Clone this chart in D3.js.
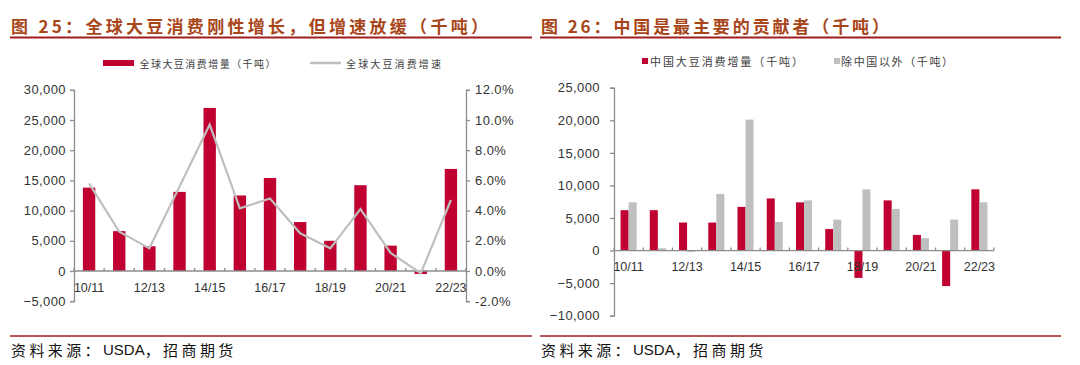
<!DOCTYPE html>
<html><head><meta charset="utf-8">
<script src="https://cdn.jsdelivr.net/npm/d3@7"></script>
<style>
html,body{margin:0;padding:0;background:#fff;}
svg{display:block;}
</style></head>
<body>
<svg id="c" width="1080" height="365"></svg>
<script>
// ---------- data ----------
const categories = ["10/11","11/12","12/13","13/14","14/15","15/16","16/17","17/18","18/19","19/20","20/21","21/22","22/23"];
const tickLabels = ["10/11","12/13","14/15","16/17","18/19","20/21","22/23"];
// left chart
const globalIncrease = [13800, 6600, 4100, 13100, 27000, 12500, 15400, 8100, 5000, 14200, 4200, -500, 16900];
const globalGrowth = [5.8, 2.6, 1.5, 5.6, 9.7, 4.15, 4.8, 2.5, 1.5, 4.1, 1.2, -0.15, 4.7];
const leftTicks = [-5000, 0, 5000, 10000, 15000, 20000, 25000, 30000];
const rightTicks = [-2, 0, 2, 4, 6, 8, 10, 12];
// right chart
const chinaIncrease = [6200, 6200, 4300, 4300, 6700, 8000, 7400, 3300, -4200, 7700, 2400, -5450, 9400];
const otherIncrease = [7400, 350, -200, 8700, 20100, 4400, 7700, 4750, 9400, 6400, 1900, 4750, 7400];
const rTicks = [-10000, -5000, 0, 5000, 10000, 15000, 20000, 25000];

const RED = "#C00030", GRAY = "#BFBFBF", AXIS = "#8C8C8C", TXT = "#333333";
const TITLE_C = "#A8461A", RULE_C = "#A01E1E";
const LATIN = "'Liberation Sans', Arial, sans-serif";
const CJK = "'Noto Sans CJK SC', 'Noto Sans', sans-serif";

const svg = d3.select("#c");

// ---------- headers / footers ----------
function header(x, lineX0, lineX1, title, tl) {
  svg.append("text").attr("x", x).attr("y", 25).attr("dominant-baseline", "central")
    .attr("font-family", CJK).attr("font-weight", "bold").attr("font-size", 17)
    .attr("fill", TITLE_C).attr("textLength", tl).attr("lengthAdjust", "spacing").text(title);
  svg.append("line").attr("x1", lineX0).attr("x2", lineX1).attr("y1", 37.5).attr("y2", 37.5)
    .attr("stroke", RULE_C).attr("stroke-width", 2);
  svg.append("line").attr("x1", lineX0).attr("x2", lineX1).attr("y1", 336).attr("y2", 336)
    .attr("stroke", RULE_C).attr("stroke-width", 1.5);
  const s = svg.append("text").attr("x", x).attr("y", 349).attr("dominant-baseline", "central")
    .attr("font-size", 15).attr("fill", "#111");
  s.append("tspan").attr("font-family", CJK).attr("letter-spacing", 3.4).text("资料来源：");
  s.append("tspan").attr("font-family", LATIN).text("USDA");
  s.append("tspan").attr("font-family", CJK).attr("letter-spacing", 3.4).text("，招商期货");
}
header(11, 10, 532, "图 25：全球大豆消费刚性增长，但增速放缓（千吨）", 477);
header(541, 540, 1061, "图 26：中国是最主要的贡献者（千吨）", 348);

// ---------- helpers ----------
function styleAxis(g) {
  g.selectAll("path.domain").attr("stroke", AXIS).attr("stroke-width", 1.3);
  g.selectAll(".tick line").attr("stroke", AXIS).attr("stroke-width", 1.3);
  g.selectAll(".tick text").attr("fill", TXT).attr("font-family", LATIN).attr("font-size", 13)
    .attr("letter-spacing", 0.4);
}
function xAxis(x, yZero, labelY) {
  const g = svg.append("g");
  g.append("line").attr("x1", x.range()[0]).attr("x2", x.range()[1]).attr("y1", yZero).attr("y2", yZero)
    .attr("stroke", AXIS).attr("stroke-width", 1.3);
  const bounds = categories.map(c => x(c)).concat([x.range()[1]]);
  g.selectAll("line.b").data(bounds).join("line").attr("class", "b")
    .attr("x1", d => d).attr("x2", d => d).attr("y1", yZero).attr("y2", yZero - 3)
    .attr("stroke", AXIS).attr("stroke-width", 1.3);
  g.selectAll("text").data(tickLabels).join("text")
    .attr("x", d => x(d) + x.bandwidth() / 2).attr("y", labelY).attr("dominant-baseline", "central")
    .attr("text-anchor", "middle").attr("font-family", LATIN).attr("font-size", 12.5).attr("fill", TXT)
    .text(d => d);
}

// ---------- left chart ----------
{
  const x = d3.scaleBand().domain(categories).range([74, 466]).paddingInner(0.59).paddingOuter(0.295);
  const xb = d3.scaleBand().domain(categories).range([74, 466]);
  const y = d3.scaleLinear().domain([-5000, 30000]).range([301.2, 89.8]);
  const y2 = d3.scaleLinear().domain([-2, 12]).range([301.2, 89.8]);

  svg.append("g").selectAll("rect").data(globalIncrease).join("rect")
    .attr("x", (d, i) => x(categories[i])).attr("width", x.bandwidth())
    .attr("y", d => Math.min(y(d), y(0))).attr("height", d => Math.abs(y(d) - y(0)))
    .attr("fill", RED);

  const gl = svg.append("g").attr("transform", "translate(74,0)")
    .call(d3.axisLeft(y).tickValues(leftTicks).tickFormat(d3.format(",")).tickSize(4).tickPadding(4));
  styleAxis(gl);
  const gr = svg.append("g").attr("transform", "translate(466,0)")
    .call(d3.axisRight(y2).tickValues(rightTicks).tickFormat(d => d.toFixed(1) + "%").tickSize(4).tickPadding(5));
  styleAxis(gr);

  xAxis(xb, y(0), 288);

  const line = d3.line().x((d, i) => xb(categories[i]) + xb.bandwidth() / 2).y(d => y2(d));
  svg.append("path").datum(globalGrowth).attr("d", line).attr("fill", "none")
    .attr("stroke", GRAY).attr("stroke-width", 2.2);

  // legend
  const lg = svg.append("g");
  lg.append("rect").attr("x", 103).attr("y", 60).attr("width", 31).attr("height", 6).attr("fill", RED);
  lg.append("text").attr("x", 139.5).attr("y", 63).attr("dominant-baseline", "central")
    .attr("font-family", CJK).attr("font-size", 10).attr("fill", "#404040")
    .attr("textLength", 136).attr("lengthAdjust", "spacing").text("全球大豆消费增量（千吨）");
  lg.append("line").attr("x1", 310).attr("x2", 341).attr("y1", 63).attr("y2", 63)
    .attr("stroke", GRAY).attr("stroke-width", 2.5);
  lg.append("text").attr("x", 346).attr("y", 63).attr("dominant-baseline", "central")
    .attr("font-family", CJK).attr("font-size", 10).attr("fill", "#404040")
    .attr("textLength", 95).attr("lengthAdjust", "spacing").text("全球大豆消费增速");
}

// ---------- right chart ----------
{
  const xb = d3.scaleBand().domain(categories).range([614, 994]);
  const x0 = d3.scaleBand().domain(categories).range([614, 994]).paddingInner(0.45).paddingOuter(0.225);
  const xs = d3.scaleBand().domain(["china", "other"]).range([0, x0.bandwidth()]);
  const y = d3.scaleLinear().domain([-10000, 25000]).range([315.7, 87.7]);

  const series = [["china", chinaIncrease, RED], ["other", otherIncrease, GRAY]];
  series.forEach(([k, vals, col]) => {
    svg.append("g").selectAll("rect").data(vals).join("rect")
      .attr("x", (d, i) => x0(categories[i]) + xs(k)).attr("width", xs.bandwidth())
      .attr("y", d => Math.min(y(d), y(0))).attr("height", d => Math.abs(y(d) - y(0)))
      .attr("fill", col);
  });

  const gl = svg.append("g").attr("transform", "translate(614,0)")
    .call(d3.axisLeft(y).tickValues(rTicks).tickFormat(d3.format(",")).tickSize(4).tickPadding(10));
  styleAxis(gl);
  xAxis(xb, y(0), 267);

  const lg = svg.append("g");
  lg.append("rect").attr("x", 642).attr("y", 58).attr("width", 6).attr("height", 6).attr("fill", RED);
  lg.append("text").attr("x", 650).attr("y", 61).attr("dominant-baseline", "central")
    .attr("font-family", CJK).attr("font-size", 11).attr("fill", "#404040")
    .attr("textLength", 153).attr("lengthAdjust", "spacing").text("中国大豆消费增量（千吨）");
  lg.append("rect").attr("x", 834).attr("y", 58).attr("width", 6).attr("height", 6).attr("fill", GRAY);
  lg.append("text").attr("x", 841).attr("y", 61).attr("dominant-baseline", "central")
    .attr("font-family", CJK).attr("font-size", 11).attr("fill", "#404040")
    .attr("textLength", 112).attr("lengthAdjust", "spacing").text("除中国以外（千吨）");
}
</script>
</body></html>
